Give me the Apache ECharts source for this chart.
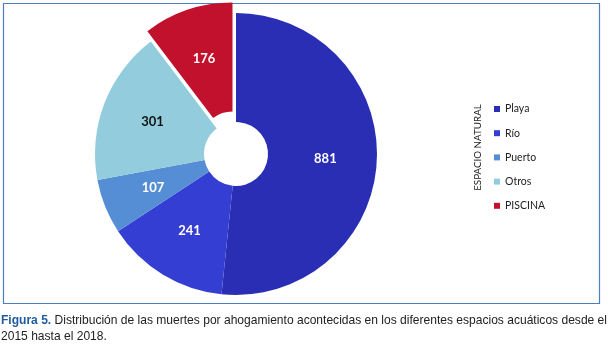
<!DOCTYPE html>
<html>
<head>
<meta charset="utf-8">
<script src="https://cdn.jsdelivr.net/npm/echarts@6/dist/echarts.min.js"></script>
<style>
html,body{margin:0;padding:0;background:#fff;}
#main{width:608px;height:346px;}
</style>
</head>
<body>
<div id="main"></div>
<script>
// Data
const categories = ['Playa', 'Río', 'Puerto', 'Otros', 'PISCINA'];
const values = [881, 241, 107, 301, 176];
const colors = ['#2A2EB5', '#353ED2', '#558ED5', '#93CDDD', '#C1112D'];
const labelColors = ['#ffffff', '#ffffff', '#ffffff', '#111111', '#ffffff'];
const explodedCategory = 'PISCINA';
const legendTitle = 'ESPACIO NATURAL';
const captionBold = 'Figura 5.';
const captionLine1 = ' Distribución de las muertes por ahogamiento acontecidas en los diferentes espacios acuáticos desde el';
const captionLine2 = '2015 hasta el 2018.';

const capFont = '"Liberation Sans", Arial, sans-serif';
// measure caption to squeeze it into the frame width like a narrow font
const cv = document.createElement('canvas').getContext('2d');
cv.font = 'bold 13px ' + capFont;
const wB = cv.measureText(captionBold).width;
cv.font = '13px ' + capFont;
const wN = cv.measureText(captionLine1).width;
const capScale = 606 / (wB + wN);

const chart = echarts.init(document.getElementById('main'), null, {renderer: 'canvas'});

const pieData = categories.map((c, i) => ({
  name: c,
  value: values[i],
  selected: c === explodedCategory,
  itemStyle: {color: colors[i]},
  label: {color: labelColors[i]}
}));

chart.setOption({
  animation: false,
  backgroundColor: '#ffffff',
  legend: {
    orient: 'vertical',
    left: 489,
    top: 98,
    itemWidth: 6,
    itemHeight: 6,
    itemGap: 12.2,
    icon: 'rect',
    selectedMode: false,
    data: categories,
    textStyle: {fontFamily: 'Lato', fontSize: 10.5, color: '#222', lineHeight: 12}
  },
  graphic: [
    {
      type: 'rect',
      shape: {x: 3.5, y: 3.5, width: 596, height: 300},
      style: {fill: null, stroke: '#4F7EBE', lineWidth: 1.2},
      silent: true,
      z: 0
    },
    {
      type: 'text',
      x: 477.5,
      y: 147.5,
      rotation: Math.PI / 2,
      style: {
        text: legendTitle,
        fontFamily: 'Lato',
        fontSize: 9.8,
        fill: '#222',
        align: 'center',
        verticalAlign: 'middle'
      }
    },
    {
      type: 'text',
      x: 1,
      y: 314,
      scaleX: capScale,
      style: {
        rich: {
          b: {fontFamily: capFont, fontSize: 13, fontWeight: 'bold', fill: '#1F5A9E'},
          n: {fontFamily: capFont, fontSize: 13, fill: '#222'}
        },
        text: '{b|' + captionBold + '}{n|' + captionLine1 + '}'
      }
    },
    {
      type: 'text',
      x: 1,
      y: 330,
      scaleX: capScale,
      style: {
        text: captionLine2,
        fontFamily: capFont,
        fontSize: 13,
        fill: '#222'
      }
    }
  ],
  series: [{
    type: 'pie',
    center: [236, 154],
    radius: [32, 141],
    startAngle: 90,
    clockwise: true,
    selectedMode: 'single',
    selectedOffset: 11,
    avoidLabelOverlap: false,
    emphasis: {disabled: true},
    itemStyle: {borderWidth: 0},
    label: {
      show: true,
      position: 'inside',
      formatter: '{c}',
      fontFamily: 'Lato',
      fontWeight: 'bold',
      fontSize: 13
    },
    labelLine: {show: false},
    data: pieData
  }]
});
</script>
</body>
</html>
